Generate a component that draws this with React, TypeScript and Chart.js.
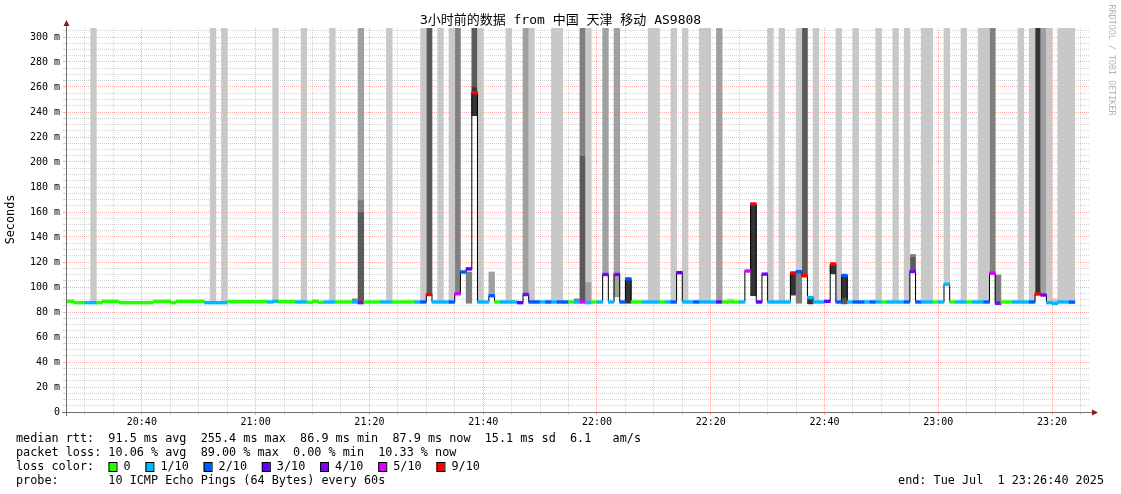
import React, { useEffect, useRef } from 'react';
import { Chart, registerables } from 'chart.js';

Chart.register(...registerables);

// ---------- texts ----------
const TITLE = '3小时前的数据 from 中国 天津 移动 AS9808';
const Y_TITLE = 'Seconds';
const CREDIT = 'RRDTOOL / TOBI OETIKER';
const statLines = [
  'median rtt:  91.5 ms avg  255.4 ms max  86.9 ms min  87.9 ms now  15.1 ms sd  6.1   am/s',
  'packet loss: 10.06 % avg  89.00 % max  0.00 % min  10.33 % now',
];
const lossTitle = 'loss color:';
const lossLabels = ['0', '1/10', '2/10', '3/10', '4/10', '5/10', '9/10'];
const lossColors = ['#26ff00', '#00b8ff', '#0059ff', '#5e00ff', '#7e00ff', '#dd00ff', '#ff0000'];
const probeLine = 'probe:       10 ICMP Echo Pings (64 Bytes) every 60s';
const endLine = 'end: Tue Jul  1 23:26:40 2025';

// ---------- axes (minutes after 20:00, seconds in ms) ----------
const START_MIN = 26 + 40 / 60; // 20:26:40
const END_MIN = START_MIN + 180; // 23:26:40
const FIRST_STEP = 27; // minute where medianRtt[0] starts; one step = 1 minute
const Y_MAX = 307.2;
const OFF_SCALE = 320; // pings above the visible range
const xTickMinutes = [30, 35, 40, 45, 50, 55, 60, 65, 70, 75, 80, 85, 90, 95, 100, 105, 110, 115, 120, 125, 130,
  135, 140, 145, 150, 155, 160, 165, 170, 175, 180, 185, 190, 195, 200, 205];
const yTickValues = [0, 5, 10, 15, 20, 25, 30, 35, 40, 45, 50, 55, 60, 65, 70, 75, 80, 85, 90, 95, 100, 105, 110,
  115, 120, 125, 130, 135, 140, 145, 150, 155, 160, 165, 170, 175, 180, 185, 190, 195, 200, 205, 210, 215, 220,
  225, 230, 235, 240, 245, 250, 255, 260, 265, 270, 275, 280, 285, 290, 295, 300, 305];

// ---------- data: one entry per minute from 20:27 ----------
const medianRtt: (number | null)[] = [
  88.5, 87.5, 87.5, 87.5, 87.5, 87.5, 88.5, 88.5, 88.5, 87.5,
  87.5, 87.5, 87.5, 87.5, 87.5, 88.5, 88.5, 88.5, 87.5, 88.5,
  88.5, 88.5, 88.5, 88.5, 87.5, 87.5, 87.5, 87.5, 88.3, 88.3,
  88.3, 88.3, 88.3, 88.3, 88.3, 88, 88.5, 88.3, 88.3, 88.3,
  88, 88, 87.8, 88.6, 87.8, 88, 88, 88, 88, 88,
  88, 87.5, 88, 88, 88, 88, 88, 88, 88, 88,
  88, 88, 88, 94, 88, 88, 88, 88, 94.6, 112,
  114.5, 255.4, 88, 88, 93, 88, 88, 88, 88, 87.5,
  94, 88, 88, 88, 88, 88, 88, 88, 88, 88,
  88, 87.5, 88, 88, 110, 88, 110, 88, 106.5, 88,
  88, 88, 88, 88, 88, 88, 88, 111.5, 88, 88,
  88, 88, 88, 88, 88, 88, 88, 88, 88, 112.8,
  166.4, 88, 110.3, 88, 88, 88, 88, 111.2, 112.3, 109,
  91.5, 88, 88, 88.5, 118.4, 88, 109.2, 88, 88, 88,
  88, 88, 88, 88, 88, 88, 88, 88, 112.4, 88,
  88, 88, 88, 88, 102.2, 88, 88, 88, 88, 88,
  88, 88, 111, 87, 88, 88, 88, 88, 88, 88,
  94.4, 93.6, 87.5, 86.9, 88, 88, 87.9, null, null, null,
];
// index into lossColors
const lossIndex: (number | null)[] = [
  0, 0, 0, 1, 1, 0, 0, 0, 0, 0,
  0, 0, 0, 0, 0, 0, 0, 0, 0, 0,
  0, 0, 0, 0, 1, 1, 1, 1, 0, 0,
  0, 0, 0, 0, 0, 1, 1, 0, 0, 0,
  1, 1, 0, 0, 0, 1, 1, 0, 0, 0,
  1, 4, 0, 0, 0, 1, 1, 0, 0, 0,
  0, 1, 2, 6, 1, 1, 1, 2, 5, 2,
  3, 6, 1, 1, 2, 0, 1, 1, 1, 3,
  4, 2, 2, 1, 2, 1, 2, 2, 0, 1,
  5, 1, 0, 1, 4, 1, 4, 2, 2, 0,
  0, 1, 1, 1, 0, 1, 2, 3, 1, 1,
  2, 1, 1, 1, 3, 0, 0, 0, 1, 5,
  6, 3, 4, 1, 1, 1, 1, 6, 2, 6,
  1, 1, 1, 3, 6, 2, 2, 1, 2, 2,
  1, 2, 1, 0, 1, 1, 1, 2, 4, 2,
  1, 1, 0, 1, 1, 0, 1, 1, 0, 1,
  1, 2, 5, 4, 0, 0, 1, 1, 1, 2,
  6, 4, 1, 1, 1, 1, 2, null, null, null,
];
// smoke bands: [step, low ms, high ms, shade index]
const smokeShades = ['#c8c8c8', '#a0a0a0', '#808080', '#5a5a5a', '#333333'];
const smokeBands: [number, number, number, number][] = [
  [4, 88, OFF_SCALE, 0], [25, 88, OFF_SCALE, 0], [27, 88, OFF_SCALE, 0], [36, 88, OFF_SCALE, 0],
  [41, 88, OFF_SCALE, 0], [46, 88, OFF_SCALE, 0], [50, 88.5, 90.5, 2],
  [51, 88, 160, 3], [51, 160, 170, 2], [51, 170, OFF_SCALE, 1],
  [56, 88, OFF_SCALE, 0], [62, 88, OFF_SCALE, 0], [63, 95, OFF_SCALE, 3], [65, 88, OFF_SCALE, 0],
  [67, 88, OFF_SCALE, 0], [68, 96, OFF_SCALE, 2], [70, 87, 112, 2],
  [71, 237, 260, 4], [71, 260, OFF_SCALE, 3], [72, 88, OFF_SCALE, 0], [74, 94.5, 112, 1],
  [77, 88, OFF_SCALE, 0], [80, 95.5, OFF_SCALE, 1], [81, 88, OFF_SCALE, 0], [85, 88, OFF_SCALE, 0],
  [86, 88, OFF_SCALE, 0], [89, 88.5, 90.5, 2], [90, 88, 205, 3], [90, 205, OFF_SCALE, 2],
  [91, 87, 104, 1], [91, 104, OFF_SCALE, 0], [94, 111.5, OFF_SCALE, 1], [96, 92, OFF_SCALE, 1],
  [98, 87, 105.5, 4], [102, 88, OFF_SCALE, 0], [103, 88, OFF_SCALE, 0], [106, 88, OFF_SCALE, 0],
  [108, 88, OFF_SCALE, 0], [111, 88, OFF_SCALE, 0], [112, 88, OFF_SCALE, 0], [114, 88, OFF_SCALE, 1],
  [116, 88.5, 90.5, 0], [120, 93, 165.5, 4], [123, 88, OFF_SCALE, 0], [125, 88, OFF_SCALE, 0],
  [127, 93.5, 110.5, 4], [128, 87, 111, 2], [128, 113.5, OFF_SCALE, 0], [129, 110, OFF_SCALE, 3],
  [130, 86.5, 90.5, 4], [131, 88, OFF_SCALE, 0], [134, 110.5, 117.5, 4], [135, 88, OFF_SCALE, 0],
  [136, 86.5, 91, 3], [136, 91, 108, 4], [138, 88, OFF_SCALE, 0], [142, 88, OFF_SCALE, 0],
  [145, 88, OFF_SCALE, 0], [147, 88, OFF_SCALE, 0], [148, 113, 124, 3], [148, 124, 126, 2],
  [150, 88, OFF_SCALE, 0], [151, 88, OFF_SCALE, 0], [154, 103, OFF_SCALE, 0], [157, 88, OFF_SCALE, 0],
  [160, 88, OFF_SCALE, 0], [161, 88, OFF_SCALE, 0], [162, 112, OFF_SCALE, 2], [163, 88, 109.6, 2],
  [167, 88, OFF_SCALE, 0], [169, 88, OFF_SCALE, 0], [170, 95, OFF_SCALE, 4], [171, 94.5, OFF_SCALE, 1],
  [172, 88, OFF_SCALE, 0], [173, 88, 90.5, 0], [174, 88, OFF_SCALE, 0], [175, 88, OFF_SCALE, 0],
  [176, 88, OFF_SCALE, 0],
];

// ---------- style ----------
const MONO = '"DejaVu Sans Mono", "Noto Sans CJK SC", monospace';
const MAJOR_GRID = 'rgba(255, 0, 0, 0.34)';
const MINOR_GRID = 'rgba(160, 160, 160, 0.45)';
const AXIS_COLOR = '#707070';
const ARROW_COLOR = '#8b1c1c';
const SEG_HALF = 1.1; // half thickness of the coloured median segments (ms)

const fmtTime = (m: number) => {
  const h = 20 + Math.floor(m / 60);
  const mm = Math.round(m % 60);
  return `${h}:${mm < 10 ? '0' + mm : mm}`;
};

const decor = {
  id: 'decor',
  afterDraw(chart: any) {
    const { ctx, chartArea: ca } = chart;
    ctx.save();
    // axes
    ctx.strokeStyle = AXIS_COLOR;
    ctx.lineWidth = 1;
    ctx.beginPath();
    ctx.moveTo(ca.left + 0.5, ca.bottom + 4);
    ctx.lineTo(ca.left + 0.5, ca.top - 3);
    ctx.moveTo(ca.left - 4, ca.bottom + 0.5);
    ctx.lineTo(ca.right + 4, ca.bottom + 0.5);
    ctx.stroke();
    // arrows
    ctx.fillStyle = ARROW_COLOR;
    ctx.beginPath();
    ctx.moveTo(ca.left + 0.5, ca.top - 8);
    ctx.lineTo(ca.left - 2.5, ca.top - 2);
    ctx.lineTo(ca.left + 3.5, ca.top - 2);
    ctx.closePath();
    ctx.fill();
    ctx.beginPath();
    ctx.moveTo(ca.right + 8, ca.bottom + 0.5);
    ctx.lineTo(ca.right + 2, ca.bottom - 2.5);
    ctx.lineTo(ca.right + 2, ca.bottom + 3.5);
    ctx.closePath();
    ctx.fill();

    // title
    ctx.fillStyle = '#000';
    ctx.textBaseline = 'middle';
    ctx.textAlign = 'center';
    ctx.font = `13px ${MONO}`;
    ctx.fillText(TITLE, chart.width / 2, 21);

    // y title
    ctx.save();
    ctx.translate(10.5, 219.5);
    ctx.rotate(-Math.PI / 2);
    ctx.font = `11.8px ${MONO}`;
    ctx.fillText(Y_TITLE, 0, 0);
    ctx.restore();

    // credit
    ctx.save();
    ctx.translate(1111, 60);
    ctx.rotate(Math.PI / 2);
    ctx.fillStyle = '#b4b4b4';
    ctx.font = `8.4px ${MONO}`;
    ctx.fillText(CREDIT, 0, 0);
    ctx.restore();

    // legend
    ctx.textAlign = 'left';
    ctx.font = `11.8px ${MONO}`;
    ctx.fillStyle = '#000';
    ctx.fillText(statLines[0], 16, 438.5);
    ctx.fillText(statLines[1], 16, 452.5);
    ctx.fillText(lossTitle, 16, 466.5);
    let x = 108.5;
    lossLabels.forEach((lab, i) => {
      ctx.fillStyle = lossColors[i];
      ctx.fillRect(x, 462, 8, 9);
      ctx.strokeStyle = '#000';
      ctx.lineWidth = 1;
      ctx.strokeRect(x + 0.5, 462.5, 8, 9);
      ctx.fillStyle = '#000';
      ctx.fillText(lab, x + 15, 466.5);
      x = x + 15 + ctx.measureText(lab).width + 14.8;
    });
    ctx.fillText(probeLine, 16, 480.5);
    ctx.textAlign = 'right';
    ctx.fillText(endLine, 1104, 480.5);
    ctx.restore();
  },
};

export default function App() {
  const ref = useRef<HTMLCanvasElement>(null);

  useEffect(() => {
    const canvas = ref.current;
    if (!canvas) return;

    // smoke datasets, one per shade
    const smokeSets = smokeShades.map((shade, si) => ({
      type: 'bar' as const,
      data: smokeBands
        .filter((b) => b[3] === si)
        .map((b) => ({ x: FIRST_STEP + b[0] + 0.5, y: [b[1], b[2]] })),
      backgroundColor: shade,
      borderWidth: 0,
      grouped: false,
      barPercentage: 1,
      categoryPercentage: 1,
      clip: 0,
      order: 3,
    }));

    // black stepped median line
    const linePts: { x: number; y: number }[] = [];
    medianRtt.forEach((m, i) => {
      if (m == null) return;
      if (i === 0) linePts.push({ x: START_MIN, y: m });
      linePts.push({ x: FIRST_STEP + i, y: m });
      const next = medianRtt[i + 1];
      if (next == null) linePts.push({ x: FIRST_STEP + i + 1, y: m });
    });

    // coloured median segments (loss)
    const segPts: { x: number; y: number[] }[] = [];
    const segCols: string[] = [];
    medianRtt.forEach((m, i) => {
      if (m == null) return;
      const c = lossColors[lossIndex[i] as number];
      if (i === 0) {
        segPts.push({ x: FIRST_STEP - 0.5, y: [m - SEG_HALF, m + SEG_HALF] });
        segCols.push(c);
      }
      segPts.push({ x: FIRST_STEP + i + 0.5, y: [m - SEG_HALF, m + SEG_HALF] });
      segCols.push(c);
    });

    const gridColor = (ctx: any) =>
      ctx.tick && Math.abs(ctx.tick.value % 20) < 1e-6 ? MAJOR_GRID : MINOR_GRID;

    const chart = new Chart(canvas, {
      type: 'bar',
      data: {
        datasets: [
          {
            type: 'bar',
            data: segPts as any,
            backgroundColor: segCols,
            borderWidth: 0,
            grouped: false,
            barPercentage: 1,
            categoryPercentage: 1,
            clip: 0,
            order: 1,
          } as any,
          {
            type: 'line',
            data: linePts as any,
            borderColor: '#000',
            borderWidth: 1,
            pointRadius: 0,
            stepped: 'before',
            fill: false,
            clip: 0,
            order: 2,
          } as any,
          ...(smokeSets as any[]),
        ],
      },
      options: {
        responsive: false,
        maintainAspectRatio: false,
        animation: false,
        events: [],
        layout: { padding: { left: 0, top: 28, right: 31, bottom: 0 } },
        plugins: {
          legend: { display: false },
          tooltip: { enabled: false },
          title: { display: false },
        },
        scales: {
          x: {
            type: 'linear',
            min: START_MIN,
            max: END_MIN,
            offset: false,
            grid: { offset: false, color: gridColor, lineWidth: 1, drawTicks: true, tickLength: 3 },
            border: { display: false, dash: [1, 1] },
            ticks: {
              autoSkip: false,
              maxRotation: 0,
              minRotation: 0,
              padding: 1,
              color: '#000',
              font: { family: MONO, size: 10 },
              callback: (v: any) => (Number(v) % 20 === 0 ? fmtTime(Number(v)) : ''),
            },
            afterBuildTicks: (s: any) => {
              s.ticks = xTickMinutes.map((v) => ({ value: v }));
            },
            afterFit: (s: any) => {
              s.height = 82;
            },
          },
          y: {
            type: 'linear',
            min: 0,
            max: Y_MAX,
            grid: { color: gridColor, lineWidth: 1, drawTicks: true, tickLength: 3 },
            border: { display: false, dash: [1, 1] },
            ticks: {
              autoSkip: false,
              padding: 3,
              color: '#000',
              font: { family: MONO, size: 10 },
              callback: (v: any) => {
                const n = Number(v);
                if (n % 20 !== 0) return '';
                return n === 0 ? '0' : `${n} m`;
              },
            },
            afterBuildTicks: (s: any) => {
              s.ticks = yTickValues.map((v) => ({ value: v }));
            },
            afterFit: (s: any) => {
              s.width = 66;
            },
          },
        },
      } as any,
      plugins: [decor],
    });

    return () => chart.destroy();
  }, []);

  return (
    <div style={{ position: 'absolute', left: 0, top: 0, width: 1121, height: 494, background: '#fff' }}>
      <canvas ref={ref} width={1121} height={494} style={{ display: 'block', width: 1121, height: 494 }} />
    </div>
  );
}
